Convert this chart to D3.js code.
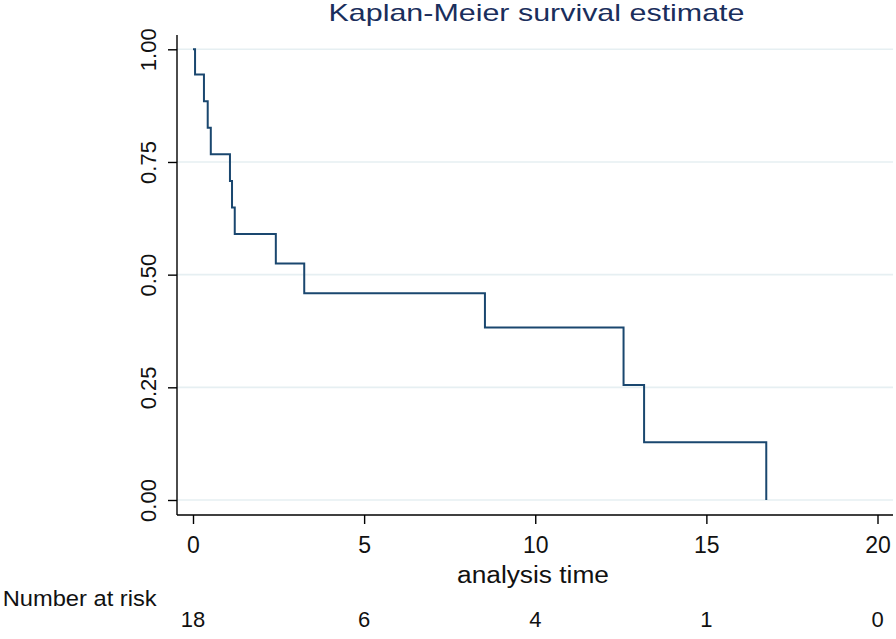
<!DOCTYPE html>
<html><head><meta charset="utf-8">
<script src="https://cdn.jsdelivr.net/npm/d3@7"></script>
<style>
html,body{margin:0;padding:0;background:#fff;}
text{font-family:"Liberation Sans",Arial,Helvetica,sans-serif;}
</style></head>
<body><svg id="c" width="896" height="639"></svg>
<script>
// Data
const times = [0, 0.06, 0.32, 0.43, 0.52, 1.08, 1.14, 1.22, 2.42, 3.25, 8.53, 12.58, 13.18, 16.75];
const survival = [1, 0.944, 0.885, 0.826, 0.767, 0.708, 0.649, 0.590, 0.525, 0.459, 0.383, 0.255, 0.128, 0];
const xTicks = [0, 5, 10, 15, 20];
const yTicks = [0, 0.25, 0.5, 0.75, 1];
const yTickLabels = ["0.00", "0.25", "0.50", "0.75", "1.00"];
const atRisk = [18, 6, 4, 1, 0];
const title = "Kaplan-Meier survival estimate";
const xTitle = "analysis time";
const riskTitle = "Number at risk";

const svg = d3.select("#c");
const x = d3.scaleLinear().domain([0, 20]).range([193, 877.5]);
const y = d3.scaleLinear().domain([0, 1]).range([500, 49.3]);
const plotLeft = 177, plotRight = 893, plotTop = 35, plotBottom = 515;

// gridlines
svg.append("g").selectAll("line").data(yTicks).join("line")
  .attr("x1", plotLeft).attr("x2", plotRight)
  .attr("y1", d => y(d)).attr("y2", d => y(d))
  .attr("stroke", "#e6eff2").attr("stroke-width", 1.6);

// axis lines
svg.append("line").attr("x1", plotLeft).attr("x2", plotLeft).attr("y1", plotTop).attr("y2", plotBottom)
  .attr("stroke", "#000").attr("stroke-width", 1.4);
svg.append("line").attr("x1", plotLeft).attr("x2", plotRight).attr("y1", plotBottom).attr("y2", plotBottom)
  .attr("stroke", "#000").attr("stroke-width", 1.4);

// x axis
const gx = svg.append("g").attr("transform", `translate(0,${plotBottom})`)
  .call(d3.axisBottom(x).tickValues(xTicks).tickFormat(d3.format("d")).tickSize(9).tickPadding(14));
gx.select(".domain").remove();
gx.selectAll(".tick line").attr("stroke", "#000").attr("stroke-width", 1.4);
gx.selectAll(".tick text").attr("font-size", 23).attr("fill", "#111")
  .attr("font-family", '"Liberation Sans",Arial,sans-serif')
  .attr("dy", 0).attr("y", 37.5);

// y axis
const gy = svg.append("g").attr("transform", `translate(${plotLeft},0)`)
  .call(d3.axisLeft(y).tickValues(yTicks).tickFormat((d, i) => yTickLabels[i]).tickSize(9));
gy.select(".domain").remove();
gy.selectAll(".tick line").attr("stroke", "#000").attr("stroke-width", 1.4);
gy.selectAll(".tick text").attr("font-size", 22).attr("fill", "#111")
  .attr("font-family", '"Liberation Sans",Arial,sans-serif')
  .attr("text-anchor", "middle").attr("transform", "rotate(-90)")
  .attr("x", 0).attr("y", -21).attr("dy", 0);

// survival curve
const line = d3.line().x(d => x(d[0])).y(d => y(d[1])).curve(d3.curveStepAfter);
svg.append("path").datum(times.map((t, i) => [t, survival[i]]))
  .attr("d", line).attr("fill", "none").attr("stroke", "#1a476f").attr("stroke-width", 2);

// title
svg.append("text").attr("x", 536.5).attr("y", 21).attr("text-anchor", "middle")
  .attr("font-size", 24).attr("fill", "#1a2e5c")
  .attr("textLength", 416).attr("lengthAdjust", "spacingAndGlyphs").text(title);

// x title
svg.append("text").attr("x", 533).attr("y", 583.3).attr("text-anchor", "middle")
  .attr("font-size", 23).attr("fill", "#111")
  .attr("textLength", 152).attr("lengthAdjust", "spacingAndGlyphs").text(xTitle);

// number at risk
svg.append("text").attr("x", 2.7).attr("y", 605.7)
  .attr("font-size", 22).attr("fill", "#111")
  .attr("textLength", 154).attr("lengthAdjust", "spacingAndGlyphs").text(riskTitle);
svg.append("g").selectAll("text").data(atRisk).join("text")
  .attr("x", (d, i) => x(xTicks[i])).attr("y", 627.3).attr("text-anchor", "middle")
  .attr("font-size", 22).attr("fill", "#111").text(d => d);
</script></body></html>
